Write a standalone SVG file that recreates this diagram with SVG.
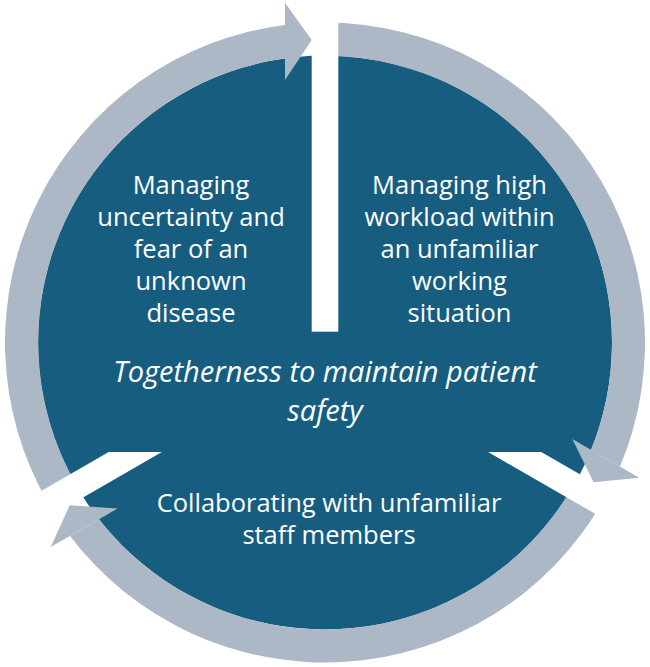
<svg xmlns="http://www.w3.org/2000/svg" width="650" height="667" viewBox="0 0 650 667">
<defs>
<style>
.disc{fill:#165d80}
.band{fill:#acb8c5}
.gap{fill:#ffffff}
.lbl{font-family:"Open Sans","Noto Sans","Liberation Sans",sans-serif;font-size:25.5px;fill:#ffffff;text-anchor:middle}
.ctr{font-style:italic;font-size:29px}
</style>
<g id="arrowShape">
<path class="band" d="M47.9,502.5 A320,320 0 0 1 285,25 L285,58.3 A286.5,286.5 0 0 0 76.9,485.8 Z"/>
<polygon class="band" points="285,2.7 311.7,40 285,80"/>
</g>
</defs>
<g id="disc">
<circle class="disc" cx="325" cy="342.5" r="287"/>
</g>
<g id="connectors">
<use href="#arrowShape"/>
<use href="#arrowShape" transform="rotate(120 325 342.5)"/>
<use href="#arrowShape" transform="rotate(240 325 342.5)"/>
</g>
<g id="separators">
<rect class="gap" x="311.7" y="-5" width="26.6" height="336.7"/>
<polygon class="gap" points="488.1,452 541.3,452 695.4,541 682.1,564"/>
<polygon class="gap" points="161.9,452 108.7,452 -45.4,541 -32.1,564"/>
</g>
<g id="node-uncertainty">
<text class="lbl" x="191" y="194">Managing</text>
<text class="lbl" x="191" y="226">uncertainty and</text>
<text class="lbl" x="191" y="258">fear of an</text>
<text class="lbl" x="191" y="290">unknown</text>
<text class="lbl" x="191" y="322">disease</text>
</g>
<g id="node-workload">
<text class="lbl" x="459.5" y="194">Managing high</text>
<text class="lbl" x="459.5" y="226">workload within</text>
<text class="lbl" x="459.5" y="258">an unfamiliar</text>
<text class="lbl" x="459.5" y="290">working</text>
<text class="lbl" x="459.5" y="322">situation</text>
</g>
<g id="node-center">
<text class="lbl ctr" x="325" y="382">Togetherness to maintain patient</text>
<text class="lbl ctr" x="325" y="421">safety</text>
</g>
<g id="node-collaborating">
<text class="lbl" x="329" y="512">Collaborating with unfamiliar</text>
<text class="lbl" x="329" y="544">staff members</text>
</g>
</svg>
